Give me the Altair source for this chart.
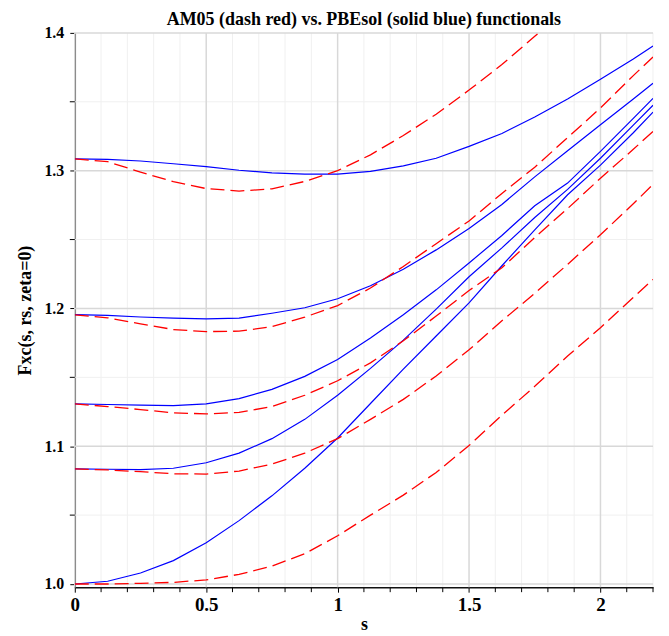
import altair as alt
import pandas as pd

# s grid (reduced gradient)
S = [0, 0.125, 0.25, 0.375, 0.5, 0.625, 0.75, 0.875, 1.0, 1.125, 1.25, 1.375,
     1.5, 1.625, 1.75, 1.875, 2.0, 2.125, 2.2]

# PBEsol (solid blue), one list per rs
pbesol_rs0 = [1.000, 1.002, 1.008, 1.017, 1.030, 1.046, 1.064, 1.084, 1.106, 1.131, 1.156, 1.180,
              1.204, 1.231, 1.257, 1.2825, 1.304, 1.3275, 1.3425]
pbesol_rs05 = [1.0835, 1.0833, 1.083, 1.084, 1.088, 1.095, 1.1055, 1.1195, 1.137, 1.1565, 1.177, 1.1995,
               1.223, 1.244, 1.266, 1.2864, 1.309, 1.333, 1.3475]
pbesol_rs1 = [1.1307, 1.1303, 1.1298, 1.1295, 1.1307, 1.1345, 1.1413, 1.1507, 1.163, 1.1785, 1.1955, 1.2135,
              1.233, 1.253, 1.2745, 1.291, 1.314, 1.338, 1.3525]
pbesol_rs2 = [1.1955, 1.195, 1.1938, 1.193, 1.1925, 1.193, 1.1965, 1.2005, 1.207, 1.2165, 1.2285, 1.2425,
              1.258, 1.2755, 1.2955, 1.3145, 1.3333, 1.352, 1.3635]
pbesol_rs5 = [1.3086, 1.3082, 1.307, 1.305, 1.303, 1.3003, 1.2984, 1.2975, 1.2975, 1.2995, 1.3035, 1.309,
              1.3176, 1.327, 1.339, 1.352, 1.3664, 1.381, 1.3905]

# AM05 (dashed red)
am05_rs0 = [1.000, 1.000, 1.0005, 1.0012, 1.003, 1.007, 1.013, 1.022, 1.035, 1.050, 1.0645, 1.081,
            1.1005, 1.1225, 1.1435, 1.1655, 1.186, 1.208, 1.221]
am05_rs05 = [1.0835, 1.0828, 1.0815, 1.080, 1.0798, 1.082, 1.087, 1.095, 1.1055, 1.1195, 1.134, 1.151,
             1.170, 1.191, 1.211, 1.232, 1.2535, 1.276, 1.290]
am05_rs1 = [1.1307, 1.1288, 1.1266, 1.1242, 1.1235, 1.1245, 1.1288, 1.137, 1.1475, 1.1605, 1.1765, 1.1945,
            1.213, 1.2295, 1.2515, 1.2725, 1.2945, 1.3155, 1.3285]
am05_rs2 = [1.1953, 1.1932, 1.1888, 1.1847, 1.1832, 1.1835, 1.1868, 1.1937, 1.2021, 1.2148, 1.2305, 1.247,
            1.2635, 1.2835, 1.3025, 1.324, 1.3455, 1.369, 1.3825]
am05_rs5 = [1.3086, 1.3065, 1.299, 1.292, 1.287, 1.2852, 1.2868, 1.2922, 1.300, 1.3115, 1.3255, 1.341,
            1.3585, 1.377, 1.3975, 1.418]

# axis ticks / grid
X_MAJOR = [0, 0.5, 1.0, 1.5, 2.0]
X_MINOR = [0.1, 0.2, 0.3, 0.4, 0.6, 0.7, 0.8, 0.9, 1.1, 1.2, 1.3, 1.4,
           1.6, 1.7, 1.8, 1.9, 2.1, 2.2]
Y_MAJOR = [1.0, 1.1, 1.2, 1.3, 1.4]
Y_MINOR = [1.05, 1.15, 1.25, 1.35]

W, H = 580, 556

rows = []
for name, vals in [("rs0", pbesol_rs0), ("rs0.5", pbesol_rs05), ("rs1", pbesol_rs1),
                   ("rs2", pbesol_rs2), ("rs5", pbesol_rs5)]:
    for s, f in zip(S, vals):
        rows.append({"s": s, "F": f, "curve": "PBEsol " + name, "func": "PBEsol"})
for name, vals in [("rs0", am05_rs0), ("rs0.5", am05_rs05), ("rs1", am05_rs1),
                   ("rs2", am05_rs2), ("rs5", am05_rs5)]:
    for s, f in zip(S, vals):
        rows.append({"s": s, "F": f, "curve": "AM05 " + name, "func": "AM05"})
df = pd.DataFrame(rows)

FONT = "Liberation Serif"
xscale = alt.Scale(domain=[0, 2.2], nice=False, zero=False)
yscale = alt.Scale(domain=[0.9977, 1.4], nice=False, zero=False)

x_enc = alt.X(
    "s:Q", scale=xscale,
    axis=alt.Axis(
        title="s", values=X_MAJOR, format="~g", grid=False,
        tickSize=5, tickColor="#000", tickWidth=1,
        domainColor="#111", domainWidth=1.5,
        labelFont=FONT, labelFontSize=19, labelFontWeight="bold", labelColor="#000",
        labelPadding=3, labelFlush=False, labelOverlap=False,
        titleFont=FONT, titleFontSize=18, titleFontWeight="bold", titleColor="#000",
        titlePadding=1,
    ),
)
y_enc = alt.Y(
    "F:Q", scale=yscale,
    axis=alt.Axis(
        title="Fxc(s, rs, zeta=0)", values=Y_MAJOR, format=".1f", grid=False,
        tickSize=5, tickColor="#000", tickWidth=1,
        domainColor="#333", domainWidth=1.5,
        labelFont=FONT, labelFontSize=16, labelFontWeight="bold", labelColor="#000",
        labelPadding=6, labelFlush=False, labelOverlap=False,
        titleFont=FONT, titleFontSize=18, titleFontWeight="bold", titleColor="#000",
        titlePadding=9,
    ),
)

xmin_df = pd.DataFrame({"v": X_MINOR})
xmaj_df = pd.DataFrame({"v": X_MAJOR})
ymin_df = pd.DataFrame({"v": Y_MINOR})
ymaj_df = pd.DataFrame({"v": Y_MAJOR})

grid_x_minor = alt.Chart(xmin_df).mark_rule(color="#f0f0f0", strokeWidth=1).encode(
    x=alt.X("v:Q", scale=xscale), y=alt.value(0), y2=alt.value(H))
grid_y_minor = alt.Chart(ymin_df).mark_rule(color="#f0f0f0", strokeWidth=1).encode(
    y=alt.Y("v:Q", scale=yscale), x=alt.value(0), x2=alt.value(W))
grid_x_major = alt.Chart(xmaj_df).mark_rule(color="#d8d8d8", strokeWidth=1.5).encode(
    x=alt.X("v:Q", scale=xscale), y=alt.value(0), y2=alt.value(H))
grid_y_major = alt.Chart(ymaj_df).mark_rule(color="#d8d8d8", strokeWidth=1.5).encode(
    y=alt.Y("v:Q", scale=yscale), x=alt.value(0), x2=alt.value(W))

tick_x_minor = alt.Chart(xmin_df).mark_rule(color="#000", strokeWidth=1).encode(
    x=alt.X("v:Q", scale=xscale), y=alt.value(H), y2=alt.value(H + 5))
tick_y_minor = alt.Chart(ymin_df).mark_rule(color="#000", strokeWidth=1).encode(
    y=alt.Y("v:Q", scale=yscale), x=alt.value(-5), x2=alt.value(0))

blue = alt.Chart(df[df.func == "PBEsol"]).mark_line(
    color="#0000ff", strokeWidth=1.2, clip=True, interpolate="linear"
).encode(x=x_enc, y=y_enc, detail="curve:N", order="s:Q")

red = alt.Chart(df[df.func == "AM05"]).mark_line(
    color="#ff0000", strokeWidth=1.3, strokeDash=[14, 6], clip=True, interpolate="linear"
).encode(x="s:Q", y="F:Q", detail="curve:N", order="s:Q")

chart = alt.layer(
    grid_x_minor, grid_y_minor, grid_x_major, grid_y_major,
    tick_x_minor, tick_y_minor, blue, red
).properties(
    width=W,
    height=H,
    autosize=alt.AutoSizeParams(type="none"),
    padding={"left": 67, "top": 24, "right": 8, "bottom": 46},
    title=alt.TitleParams(
        "AM05 (dash red) vs. PBEsol (solid blue) functionals",
        font=FONT, fontSize=18, fontWeight="bold", color="#000", anchor="middle",
        frame="group", offset=-4,
    ),
).configure_view(strokeWidth=0)

chart.save("out.html", embed_options={"renderer": "svg", "actions": False})
